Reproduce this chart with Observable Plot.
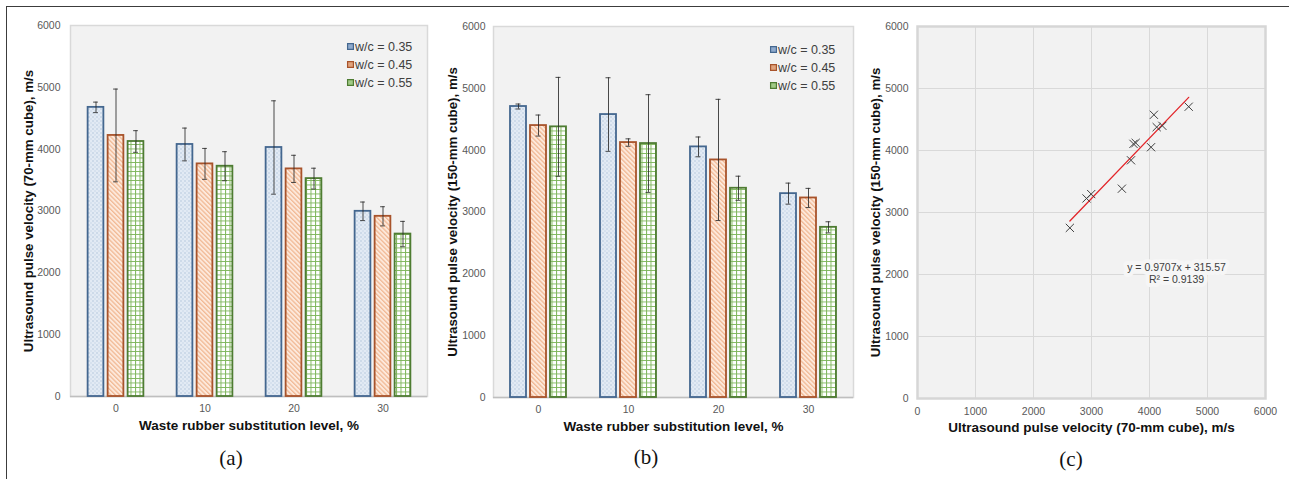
<!DOCTYPE html>
<html>
<head>
<meta charset="utf-8">
<script src="https://cdn.jsdelivr.net/npm/d3@7"></script>
<script src="https://cdn.jsdelivr.net/npm/@observablehq/plot@0.6"></script>
<style>
  html, body { margin: 0; padding: 0; background: white; }
  #wrap { position: relative; width: 1289px; height: 479px; overflow: hidden; font-family: "Liberation Sans", Arial, sans-serif; }
  #frame { position: absolute; left: 6px; top: 6px; width: 1290px; height: 480px; border-top: 1.6px solid #3c3c3c; border-left: 1.6px solid #3c3c3c; box-sizing: border-box; }
  .panel { position: absolute; top: 0; }
  .cap { position: absolute; font-family: "Liberation Serif", "DejaVu Serif", serif; font-size: 21px; color: #111; transform: translate(-50%, -50%); white-space: nowrap; }
</style>
</head>
<body>
<svg width="0" height="0" style="position:absolute">
  <defs>
    <pattern id="pat035" width="4" height="4" patternUnits="userSpaceOnUse">
      <rect width="4" height="4" fill="#e2eaf4"></rect>
      <circle cx="1" cy="1" r="0.7" fill="#aabfd8"></circle>
      <circle cx="3" cy="3" r="0.7" fill="#c2d2e5"></circle>
    </pattern>
    <pattern id="pat045" width="3.2" height="3.2" patternUnits="userSpaceOnUse" patternTransform="rotate(-45)">
      <rect width="3.2" height="3.2" fill="#fde9dc"></rect>
      <rect width="1.3" height="3.2" fill="#f1b995"></rect>
    </pattern>
    <pattern id="pat055" width="4.5" height="4.5" patternUnits="userSpaceOnUse">
      <rect width="4.5" height="4.5" fill="#ffffff"></rect>
      <path d="M0 0.5H4.5M0.5 0V4.5" stroke="#7fb65c" stroke-width="1"></path>
    </pattern>
    <pattern id="leg035" width="2" height="2" patternUnits="userSpaceOnUse">
      <rect width="2" height="2" fill="#7d9cc4"></rect>
      <rect width="1" height="1" fill="#c5d5e8"></rect>
    </pattern>
    <pattern id="leg045" width="2" height="2" patternUnits="userSpaceOnUse">
      <rect width="2" height="2" fill="#d9946a"></rect>
      <rect width="1" height="1" fill="#f6d2bb"></rect>
    </pattern>
    <pattern id="leg055" width="2" height="2" patternUnits="userSpaceOnUse">
      <rect width="2" height="2" fill="#8fbf6f"></rect>
      <rect width="1" height="1" fill="#d8ebcb"></rect>
    </pattern>
  </defs>
</svg>
<div id="wrap">
  <div id="frame"></div>
  <div id="pa" class="panel" style="left:0px;width:430px"></div>
  <div id="pb" class="panel" style="left:430px;width:430px"></div>
  <div id="pc" class="panel" style="left:860px;width:429px"></div>
  <div class="cap" style="left:231px;top:458px">(a)</div>
  <div class="cap" style="left:646px;top:457px">(b)</div>
  <div class="cap" style="left:1071px;top:459px">(c)</div>
</div>
<script>
// ---------- data ----------
const levels = ["0", "10", "20", "30"];
const series = ["w/c = 0.35", "w/c = 0.45", "w/c = 0.55"];
const yTicks = [0, 1000, 2000, 3000, 4000, 5000, 6000];
const cTicks = [0, 1000, 2000, 3000, 4000, 5000, 6000];

// (a) 70-mm cube means and error half-widths
const v70_035 = [4676, 4076, 4027, 2995];
const e70_035 = [85, 265, 755, 150];
const v70_045 = [4222, 3762, 3681, 2914];
const e70_045 = [750, 250, 220, 155];
const v70_055 = [4124, 3724, 3524, 2627];
const e70_055 = [175, 235, 168, 205];

// (b) 150-mm cube means and error half-widths
const v150_035 = [4706, 4576, 4053, 3297];
const e150_035 = [40, 595, 160, 170];
const v150_045 = [4398, 4123, 3842, 3227];
const e150_045 = [170, 60, 980, 155];
const v150_055 = [4377, 4107, 3384, 2752];
const e150_055 = [800, 790, 195, 90];

const eqText = "y = 0.9707x + 315.57\nR² = 0.9139";

// ---------- styles ----------
const FONT = "'Liberation Sans', Arial, sans-serif";
const st = [
  {fill: "url(#pat035)", leg: "url(#leg035)", stroke: "#44678f"},
  {fill: "url(#pat045)", leg: "url(#leg045)", stroke: "#a8532b"},
  {fill: "url(#pat055)", leg: "url(#leg055)", stroke: "#4e7c32"}
];
const fmt = d => String(d);

function rows(means, errs) {
  return levels.map((l, i) => ({level: l, value: means[i], lo: means[i] - errs[i], hi: means[i] + errs[i]}));
}

function barChart(cfg) {
  const bw = (cfg.width - cfg.marginLeft - cfg.marginRight) / levels.length;
  const marks = [
    Plot.frame({fill: "#f2f2f2", stroke: "#d9d9d9", strokeWidth: 1.5}),
    Plot.ruleY([0], {stroke: "#bfbfbf", strokeWidth: 1.5})
  ];
  const datasets = series.map((s, k) => rows(cfg.means[k], cfg.errs[k]));
  series.forEach((s, k) => {
    const off = (k - 1) * 20;
    marks.push(Plot.barY(datasets[k], {
      x: "level", y: "value", fill: st[k].fill, stroke: st[k].stroke, strokeWidth: 1.8,
      insetLeft: bw / 2 + off - 8, insetRight: bw / 2 - off - 8
    }));
  });
  series.forEach((s, k) => {
    const off = (k - 1) * 20;
    const capL = bw / 2 + off - 2.5, capR = bw / 2 - off - 2.5;
    marks.push(
      Plot.ruleX(datasets[k], {x: "level", y1: "lo", y2: "hi", dx: off, stroke: "#2a2a2a", strokeWidth: 0.85}),
      Plot.tickY(datasets[k], {x: "level", y: "hi", insetLeft: capL, insetRight: capR, stroke: "#2a2a2a", strokeWidth: 0.85}),
      Plot.tickY(datasets[k], {x: "level", y: "lo", insetLeft: capL, insetRight: capR, stroke: "#2a2a2a", strokeWidth: 0.85})
    );
  });
  series.forEach((s, k) => {
    marks.push(
      Plot.dot([s], {frameAnchor: "top-right", dx: cfg.legDx, dy: cfg.legDy + 18 * k, symbol: "square", r: 3.3, fill: st[k].leg, stroke: st[k].stroke, strokeWidth: 1.2}),
      Plot.text([s], {frameAnchor: "top-right", dx: cfg.legDx + 4.5, dy: cfg.legDy + 18 * k, text: d => d, textAnchor: "start", lineAnchor: "middle", fontSize: 12.5, fill: "#404040"})
    );
  });
  marks.push(
    Plot.text(["Waste rubber substitution level, %"], {frameAnchor: "bottom", dy: 29, text: d => d, textAnchor: "middle", lineAnchor: "middle", fontWeight: "bold", fontSize: 13.5, fill: "#111"}),
    Plot.text([cfg.yTitle], {frameAnchor: "left", dx: cfg.yTitleDx, rotate: -90, text: d => d, textAnchor: "middle", lineAnchor: "middle", fontWeight: "bold", fontSize: 13.3, fill: "#111"})
  );
  return Plot.plot({
    width: cfg.width, height: 479,
    marginLeft: cfg.marginLeft, marginRight: cfg.marginRight, marginTop: cfg.marginTop, marginBottom: cfg.marginBottom,
    style: {fontFamily: FONT, fontSize: "10.5px", color: "#595959", background: "transparent", overflow: "visible"},
    x: {domain: levels, padding: 0, tickSize: 0, tickPadding: 8, label: null},
    y: {domain: [0, 6000], ticks: yTicks, tickSize: 0, tickPadding: cfg.yPad, label: null, tickFormat: fmt},
    marks
  });
}

document.getElementById("pa").append(barChart({
  width: 430, marginLeft: 70, marginRight: 3, marginTop: 25, marginBottom: 83,
  means: [v70_035, v70_045, v70_055], errs: [e70_035, e70_045, e70_055],
  yTitle: "Ultrasound pulse velocity (70-mm cube), m/s", yTitleDx: -42, yPad: 10,
  legDx: -77, legDy: 21
}));

document.getElementById("pb").append(barChart({
  width: 430, marginLeft: 63, marginRight: 7, marginTop: 26, marginBottom: 82,
  means: [v150_035, v150_045, v150_055], errs: [e150_035, e150_045, e150_055],
  yTitle: "Ultrasound pulse velocity (150-mm cube), m/s", yTitleDx: -41, yPad: 8,
  legDx: -80, legDy: 23
}));

// ---------- (c) scatter ----------
const a70 = [v70_035, v70_045, v70_055];
const b150 = [v150_035, v150_045, v150_055];
const points = [];
series.forEach((s, k) => levels.forEach((l, i) => points.push({x: a70[k][i], y: b150[k][i]})));

document.getElementById("pc").append(Plot.plot({
  width: 429, height: 479,
  marginLeft: 57, marginRight: 24, marginTop: 26, marginBottom: 81,
  style: {fontFamily: FONT, fontSize: "10.5px", color: "#595959", background: "transparent", overflow: "visible"},
  x: {domain: [0, 6000], ticks: cTicks, tickSize: 0, tickPadding: 9, label: null, tickFormat: fmt},
  y: {domain: [0, 6000], ticks: cTicks, tickSize: 0, tickPadding: 9, label: null, tickFormat: fmt},
  marks: [
    Plot.frame({fill: "#f2f2f2"}),
    Plot.ruleX(cTicks, {stroke: "#d9d9d9", strokeWidth: 1}),
    Plot.ruleY(cTicks, {stroke: "#d9d9d9", strokeWidth: 1}),
    Plot.frame({stroke: "#d6d6d6", strokeWidth: 2.5}),
    Plot.text([eqText], {frameAnchor: "top-left", dx: 259, dy: 247, text: d => d, textAnchor: "middle", lineAnchor: "middle", lineHeight: 1.15, fontSize: 10.5, fill: "#404040", stroke: "#f6f6f6", strokeWidth: 8}),
    Plot.linearRegressionY(points, {x: "x", y: "y", stroke: "#e3262b", strokeWidth: 1.3, ci: 0}),
    Plot.dot(points, {x: "x", y: "y", symbol: "times", r: 3.8, stroke: "#404040", strokeWidth: 1}),
    Plot.text(["Ultrasound pulse velocity (70-mm cube), m/s"], {frameAnchor: "bottom", dy: 29, text: d => d, textAnchor: "middle", lineAnchor: "middle", fontWeight: "bold", fontSize: 13.5, fill: "#111"}),
    Plot.text(["Ultrasound pulse velocity (150-mm cube), m/s"], {frameAnchor: "left", dx: -42, rotate: -90, text: d => d, textAnchor: "middle", lineAnchor: "middle", fontWeight: "bold", fontSize: 13.3, fill: "#111"})
  ]
}));
</script>
</body>
</html>
